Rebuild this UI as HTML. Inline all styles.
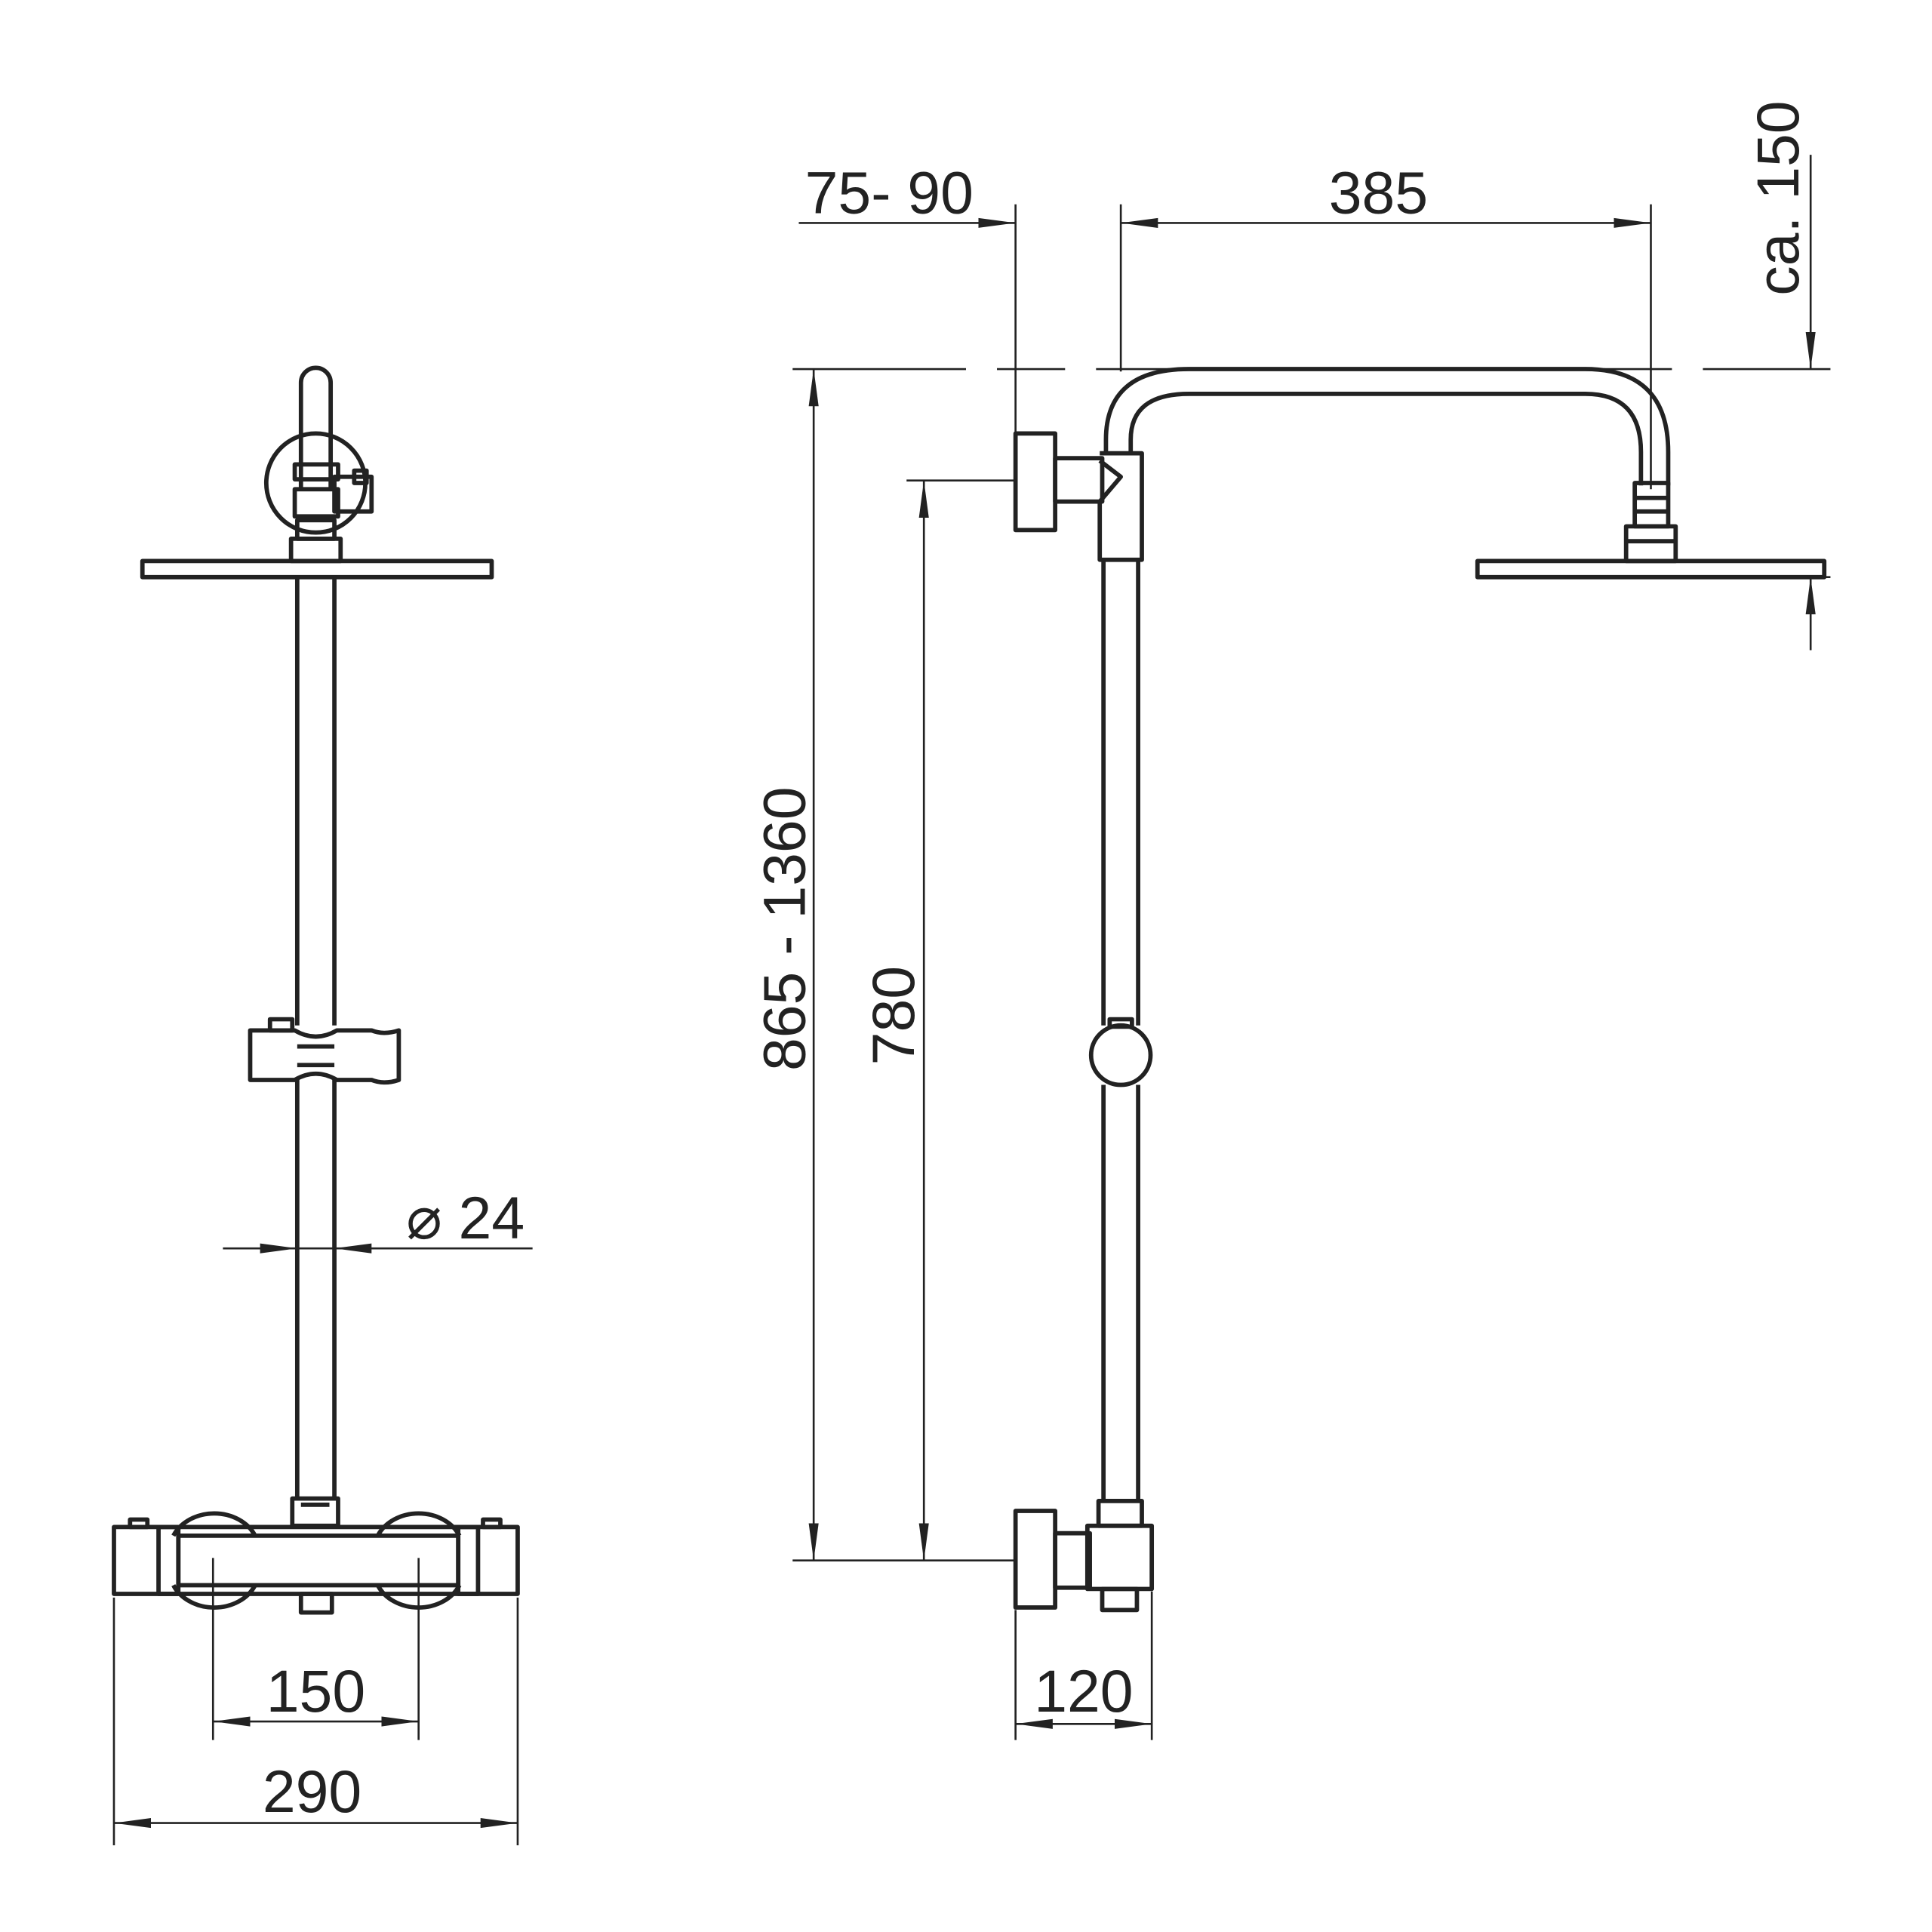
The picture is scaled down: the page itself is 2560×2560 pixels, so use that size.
<!DOCTYPE html>
<html><head><style>html,body{margin:0;padding:0;background:#fff}svg{display:block}</style></head><body>
<svg width="2560" height="2560" viewBox="0 0 1560 1560" xmlns="http://www.w3.org/2000/svg" font-family="Liberation Sans, sans-serif">
<defs>
<marker id="a" viewBox="0 0 10 10" refX="10" refY="5" markerWidth="10" markerHeight="10" markerUnits="userSpaceOnUse" orient="auto-start-reverse"><path d="M0,0 L10,5 L0,10" fill="none" stroke="#222" stroke-width="0"/></marker>
<marker id="ar" viewBox="0 0 30 10" refX="30" refY="5" markerWidth="30" markerHeight="10" markerUnits="userSpaceOnUse" orient="auto-start-reverse"><path d="M0,1 L30,5 L0,9 Z" fill="#222"/></marker>
</defs>
<g fill="none" stroke="#222" stroke-width="3.5" stroke-linejoin="round">
<!-- LEFT VIEW -->
<path d="M243,395 V309 a12,12 0 0 1 24,0 V395"/>
<circle cx="255" cy="390" r="40"/>
<rect x="238" y="375" width="35" height="12"/>
<rect x="238" y="395" width="35" height="22"/>
<rect x="270" y="385" width="30" height="28"/>
<rect x="286" y="380" width="10" height="10"/>
<rect x="235" y="435" width="40" height="18"/>
<rect x="240" y="420" width="30" height="15"/>
<rect x="115" y="453" width="282" height="13"/>
<line x1="240" y1="466" x2="240" y2="828"/><line x1="270" y1="466" x2="270" y2="828"/>
<line x1="240" y1="872" x2="240" y2="1210"/><line x1="270" y1="872" x2="270" y2="1210"/>
<path d="M202,832 H238 Q255,842 272,832 H300 Q310,836 322,832 V872 Q310,876 300,872 H272 Q255,862 238,872 H202 Z"/>
<line x1="240" y1="845" x2="270" y2="845"/><line x1="240" y1="860" x2="270" y2="860"/>
<rect x="218" y="823" width="18" height="9"/>
<rect x="236" y="1210" width="37" height="22"/>
<line x1="243" y1="1215" x2="266" y2="1215"/>
<path d="M140,1240 a36,30 0 0 1 66,0"/><path d="M305,1240 a36,30 0 0 1 66,0"/>
<path d="M140,1280 a36,30 0 0 0 66,0"/><path d="M305,1280 a36,30 0 0 0 66,0"/>
<rect x="92" y="1233" width="326" height="54"/>
<rect x="128" y="1233" width="16" height="54"/>
<rect x="370" y="1233" width="16" height="54"/>
<rect x="144" y="1240" width="226" height="40"/>
<rect x="105" y="1227" width="14" height="6"/><rect x="390" y="1227" width="14" height="6"/>
<rect x="243" y="1287" width="25" height="15"/>
<!-- RIGHT VIEW -->
<path d="M893,366 V355 Q893,298 960,298 H1280 Q1347,298 1347,365 V392"/>
<path d="M913,366 V355 Q913,318 960,318 H1280 Q1325,318 1325,365 V392"/>
<rect x="820" y="350" width="32" height="78"/>
<rect x="852" y="370" width="38" height="35"/>
<path d="M888,366 H922 V452 H888 V405 L905,385 L888,372"/>
<line x1="891" y1="452" x2="891" y2="828"/><line x1="919" y1="452" x2="919" y2="828"/>
<line x1="891" y1="876" x2="891" y2="1212"/><line x1="919" y1="876" x2="919" y2="1212"/>
<circle cx="905" cy="852" r="24"/>
<rect x="896" y="823" width="18" height="6"/>
<rect x="1320" y="390" width="27" height="35"/>
<line x1="1320" y1="402" x2="1347" y2="402"/><line x1="1320" y1="413" x2="1347" y2="413"/>
<rect x="1313" y="425" width="40" height="28"/>
<line x1="1313" y1="437" x2="1353" y2="437"/>
<rect x="1193" y="453" width="280" height="13"/>
<rect x="820" y="1220" width="32" height="78"/>
<rect x="852" y="1238" width="28" height="44"/>
<rect x="878" y="1232" width="52" height="51"/>
<rect x="887" y="1212" width="35" height="20"/>
<rect x="890" y="1283" width="28" height="17"/>
</g>
<g fill="none" stroke="#222" stroke-width="1.6">
<!-- left dims -->
<line x1="172" y1="1258" x2="172" y2="1405"/><line x1="338" y1="1258" x2="338" y2="1405"/>
<line x1="172" y1="1390" x2="338" y2="1390" marker-start="url(#ar)" marker-end="url(#ar)"/>
<line x1="92" y1="1290" x2="92" y2="1490"/><line x1="418" y1="1290" x2="418" y2="1490"/>
<line x1="92" y1="1472" x2="418" y2="1472" marker-start="url(#ar)" marker-end="url(#ar)"/>
<line x1="180" y1="1008" x2="240" y2="1008" marker-end="url(#ar)"/>
<line x1="430" y1="1008" x2="270" y2="1008" marker-end="url(#ar)"/>
<line x1="240" y1="1008" x2="270" y2="1008"/>
<!-- right dims -->
<line x1="640" y1="298" x2="1478" y2="298" stroke-dasharray="140,25,55,25"/>
<line x1="657" y1="298" x2="657" y2="1260" marker-start="url(#ar)" marker-end="url(#ar)"/>
<line x1="640" y1="1260" x2="820" y2="1260"/>
<line x1="732" y1="388" x2="820" y2="388"/>
<line x1="746" y1="388" x2="746" y2="1260" marker-start="url(#ar)" marker-end="url(#ar)"/>
<line x1="645" y1="180" x2="820" y2="180" marker-end="url(#ar)"/>
<line x1="905" y1="180" x2="1333" y2="180" marker-start="url(#ar)" marker-end="url(#ar)"/>
<line x1="820" y1="165" x2="820" y2="350"/><line x1="905" y1="165" x2="905" y2="300"/><line x1="1333" y1="165" x2="1333" y2="395"/>
<line x1="1462" y1="125" x2="1462" y2="298" marker-end="url(#ar)"/>
<line x1="1462" y1="525" x2="1462" y2="466" marker-end="url(#ar)"/>
<line x1="1355" y1="466" x2="1478" y2="466"/>
<line x1="820" y1="1300" x2="820" y2="1405"/><line x1="930" y1="1285" x2="930" y2="1405"/>
<line x1="820" y1="1392" x2="930" y2="1392" marker-start="url(#ar)" marker-end="url(#ar)"/>
</g>
<g fill="#222" font-size="48">
<text x="255" y="1382" text-anchor="middle">150</text>
<text x="252" y="1463" text-anchor="middle">290</text>
<text x="328" y="1000">⌀ 24</text>
<text x="875" y="1382" text-anchor="middle">120</text>
<text x="718" y="172" text-anchor="middle">75- 90</text>
<text x="1113" y="172" text-anchor="middle">385</text>
<text transform="translate(650,750) rotate(-90)" text-anchor="middle">865 - 1360</text>
<text transform="translate(738,820) rotate(-90)" text-anchor="middle">780</text>
<text transform="translate(1452,160) rotate(-90)" text-anchor="middle">ca. 150</text>
</g>
</svg>
</body></html>
